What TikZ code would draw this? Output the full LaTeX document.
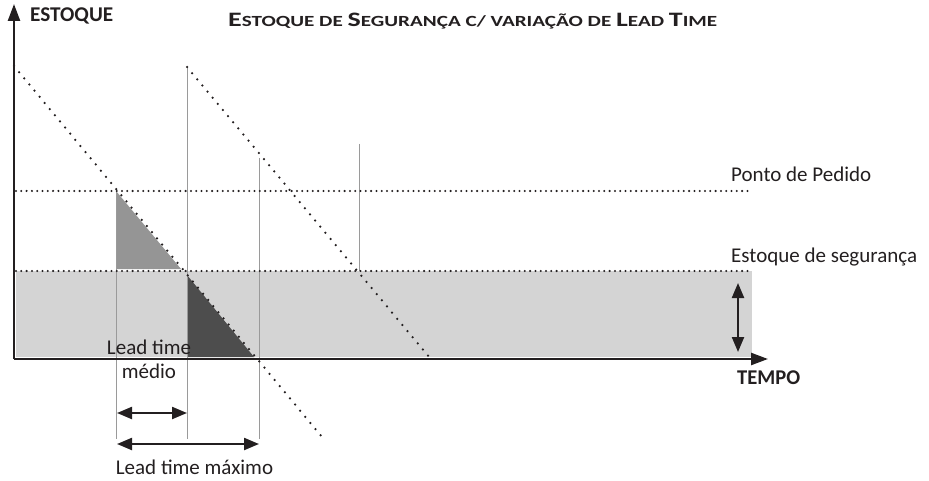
\documentclass[tikz,border=0pt]{standalone}
\usepackage{fontspec}
\setmainfont{Carlito}
\usetikzlibrary{arrows.meta}
\definecolor{ink}{HTML}{231F20}
\definecolor{safefill}{HTML}{D4D4D4}
\definecolor{midfill}{HTML}{959595}
\definecolor{darkfill}{HTML}{4D4D4D}
\definecolor{guide}{HTML}{9A9A9A}
\newcommand\scbig{\fontsize{20.5}{20.5}\selectfont}
\newcommand\scsmall{\fontsize{15.5}{15.5}\selectfont}
\tikzset{
  axisline/.style={draw=ink, line width=2.4pt, -{Triangle[length=17pt,width=12pt]}},
  dimarrow/.style={draw=ink, line width=2.2pt, {Triangle[length=15pt,width=12pt]}-{Triangle[length=15pt,width=12pt]}},
  hdots/.style={draw=ink, line width=2.3pt, line cap=round, dash pattern=on 0pt off 5.3pt},
  ddots/.style={draw=ink, line width=2.5pt, line cap=round, dash pattern=on 0pt off 8pt},
  guideline/.style={draw=guide, line width=0.9pt},
  lbl/.style={inner sep=0pt, font=\fontsize{21}{24}\selectfont, text=ink},
  blbl/.style={inner sep=0pt, font=\fontsize{21}{24}\selectfont\bfseries, text=ink},
}
\begin{document}
\begin{tikzpicture}[x=1pt,y=-1pt]
\useasboundingbox (0,0) rectangle (929,481);
% coordinates
\coordinate (O) at (14,359);
\coordinate (Ytop) at (14,4);
\coordinate (Xend) at (768,359);
\coordinate (A1) at (14,66);
\coordinate (A2) at (322,437);
\coordinate (B1) at (187,67);
\coordinate (B2) at (430,358);
% safety stock band
\fill[safefill] (16,271) rectangle (752,357);
% triangles
\fill[midfill] (116,191) -- (116,269) -- (181,269) -- cycle;
\fill[darkfill] (187,275) -- (187,357) -- (254,357) -- cycle;
% guide lines
\coordinate (g1t) at (116,191); \coordinate (g1b) at (116,439);
\coordinate (g2t) at (187,67);  \coordinate (g2b) at (187,439);
\coordinate (g3t) at (259,158); \coordinate (g3b) at (259,439);
\coordinate (g4t) at (359,144); \coordinate (g4b) at (359,271);
\draw[guideline] (g1t) -- (g1b);
\draw[guideline] (g2t) -- (g2b);
\draw[guideline] (g3t) -- (g3b);
\draw[guideline] (g4t) -- (g4b);
% horizontal dotted lines
\coordinate (R1) at (16,191); \coordinate (R2) at (748,191);
\coordinate (S1) at (16,271); \coordinate (S2) at (752,271);
\draw[hdots] (R1) -- (R2);
\draw[hdots] (S1) -- (S2);
% diagonal dotted lines
\draw[ddots] (A1) -- (A2);
\draw[ddots] (B1) -- (B2);
% axes
\draw[axisline] (O) -- (Ytop);
\draw[axisline] (O) -- (Xend);
% dimension arrows
\coordinate (ss1) at (738,283); \coordinate (ss2) at (738,352);
\draw[dimarrow] (ss1) -- (ss2);
\coordinate (m1) at (117,413); \coordinate (m2) at (187,413);
\draw[dimarrow] (m1) -- (m2);
\coordinate (x1) at (117,444); \coordinate (x2) at (259,444);
\draw[dimarrow] (x1) -- (x2);
% labels
\node[blbl, anchor=base west] (ylab) at (30,21.5) {\resizebox{83pt}{\height}{ESTOQUE}};
\node[inner sep=0pt, anchor=base west, text=ink, font=\bfseries] (title) at (228,27)
  {\resizebox{489pt}{\height}{{\scbig E}{\scsmall STOQUE DE }{\scbig S}{\scsmall EGURANÇA C/ VARIAÇÃO DE }{\scbig L}{\scsmall EAD }{\scbig T}{\scsmall IME}}};
\node[lbl, anchor=base west] (pp) at (731,182) {Ponto de Pedido};
\node[lbl, anchor=base west] (es) at (731,262) {Estoque de segurança};
\node[blbl, anchor=base west] (xlab) at (737,384) {\resizebox{63pt}{\height}{TEMPO}};
\node[lbl, anchor=base, align=center] (ltm) at (149,378) {Lead time\\médio};
\node[lbl, anchor=base] (ltx) at (194.5,474) {Lead time máximo};
\end{tikzpicture}
\end{document}
